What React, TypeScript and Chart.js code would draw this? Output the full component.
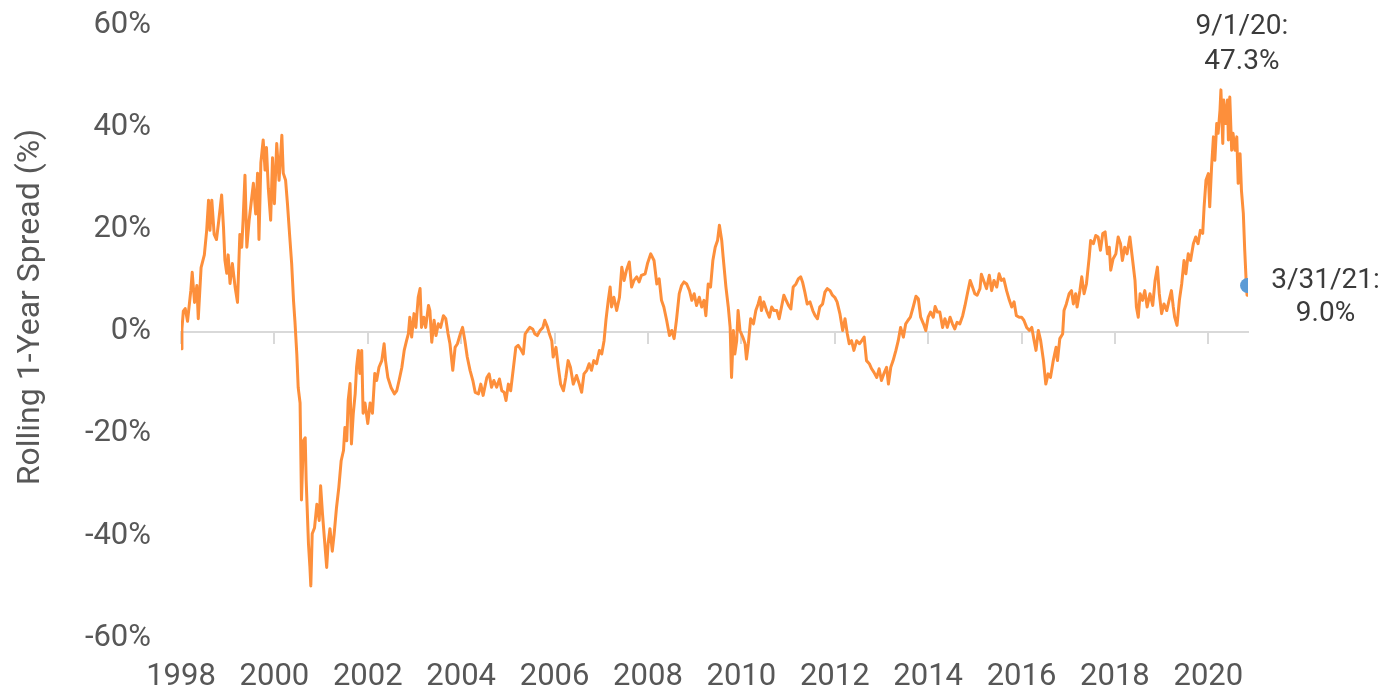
import { useEffect, useRef } from "react"
import { Chart, registerables } from "chart.js"
import type { Plugin } from "chart.js"

Chart.register(...registerables)

// rolling 1-year spread (x = decimal year on the axis)
const years = [
  1998.0, 1998.02, 1998.05, 1998.09, 1998.14, 1998.21, 1998.24, 1998.29, 1998.34, 1998.37,
  1998.43, 1998.5, 1998.55, 1998.59, 1998.62, 1998.66, 1998.71, 1998.76, 1998.81, 1998.87,
  1998.91, 1998.94, 1998.98, 1999.01, 1999.05, 1999.1, 1999.16, 1999.21, 1999.26, 1999.3,
  1999.33, 1999.37, 1999.41, 1999.46, 1999.5, 1999.55, 1999.6, 1999.64, 1999.67, 1999.71,
  1999.76, 1999.8, 1999.83, 1999.87, 1999.92, 1999.96, 2000.0, 2000.05, 2000.1, 2000.16,
  2000.19, 2000.24, 2000.28, 2000.33, 2000.37, 2000.41, 2000.44, 2000.48, 2000.51, 2000.55,
  2000.58, 2000.62, 2000.66, 2000.68, 2000.73, 2000.76, 2000.78, 2000.81, 2000.86, 2000.91,
  2000.96, 2000.99, 2001.03, 2001.07, 2001.12, 2001.15, 2001.19, 2001.24, 2001.28, 2001.33,
  2001.38, 2001.43, 2001.48, 2001.51, 2001.55, 2001.58, 2001.62, 2001.65, 2001.69, 2001.73,
  2001.76, 2001.8, 2001.83, 2001.87, 2001.9, 2001.94, 2002.0, 2002.05, 2002.1, 2002.15,
  2002.19, 2002.24, 2002.3, 2002.35, 2002.38, 2002.43, 2002.5, 2002.57, 2002.62, 2002.67,
  2002.73, 2002.78, 2002.83, 2002.87, 2002.9, 2002.94, 2002.99, 2003.03, 2003.08, 2003.12,
  2003.15, 2003.2, 2003.24, 2003.3, 2003.33, 2003.37, 2003.42, 2003.46, 2003.51, 2003.56,
  2003.62, 2003.67, 2003.72, 2003.76, 2003.82, 2003.87, 2003.92, 2003.98, 2004.03, 2004.08,
  2004.13, 2004.19, 2004.25, 2004.3, 2004.37, 2004.42, 2004.47, 2004.55, 2004.6, 2004.65,
  2004.7, 2004.76, 2004.82, 2004.87, 2004.92, 2004.96, 2005.01, 2005.06, 2005.12, 2005.17,
  2005.22, 2005.27, 2005.33, 2005.37, 2005.42, 2005.47, 2005.53, 2005.58, 2005.63, 2005.69,
  2005.75, 2005.79, 2005.85, 2005.89, 2005.94, 2005.97, 2006.03, 2006.08, 2006.13, 2006.19,
  2006.24, 2006.29, 2006.34, 2006.4, 2006.47, 2006.53, 2006.58, 2006.63, 2006.69, 2006.74,
  2006.79, 2006.84, 2006.9, 2006.96, 2007.01, 2007.06, 2007.1, 2007.15, 2007.19, 2007.22,
  2007.27, 2007.33, 2007.39, 2007.44, 2007.49, 2007.54, 2007.6, 2007.65, 2007.7, 2007.76,
  2007.81, 2007.86, 2007.94, 2007.99, 2008.06, 2008.13, 2008.19, 2008.24, 2008.29, 2008.34,
  2008.4, 2008.46, 2008.51, 2008.56, 2008.61, 2008.67, 2008.72, 2008.77, 2008.83, 2008.89,
  2008.94, 2008.99, 2009.04, 2009.1, 2009.15, 2009.2, 2009.24, 2009.29, 2009.34, 2009.39,
  2009.44, 2009.49, 2009.53, 2009.58, 2009.61, 2009.67, 2009.72, 2009.76, 2009.79, 2009.83,
  2009.86, 2009.9, 2009.93, 2009.97, 2010.03, 2010.08, 2010.11, 2010.15, 2010.2, 2010.26,
  2010.31, 2010.36, 2010.4, 2010.43, 2010.48, 2010.54, 2010.6, 2010.65, 2010.7, 2010.76,
  2010.81, 2010.86, 2010.91, 2010.96, 2011.01, 2011.06, 2011.11, 2011.17, 2011.22, 2011.27,
  2011.31, 2011.36, 2011.41, 2011.47, 2011.53, 2011.58, 2011.63, 2011.68, 2011.74, 2011.79,
  2011.84, 2011.9, 2011.95, 2012.0, 2012.05, 2012.11, 2012.17, 2012.22, 2012.27, 2012.31,
  2012.36, 2012.41, 2012.47, 2012.53, 2012.58, 2012.63, 2012.68, 2012.74, 2012.79, 2012.84,
  2012.9, 2012.95, 2013.0, 2013.05, 2013.11, 2013.15, 2013.2, 2013.25, 2013.31, 2013.36,
  2013.41, 2013.47, 2013.52, 2013.57, 2013.62, 2013.68, 2013.74, 2013.79, 2013.84, 2013.9,
  2013.95, 2014.0, 2014.05, 2014.11, 2014.15, 2014.2, 2014.25, 2014.31, 2014.36, 2014.41,
  2014.47, 2014.52, 2014.57, 2014.62, 2014.68, 2014.74, 2014.79, 2014.84, 2014.9, 2014.95,
  2015.0, 2015.05, 2015.11, 2015.14, 2015.2, 2015.25, 2015.31, 2015.36, 2015.41, 2015.47,
  2015.52, 2015.57, 2015.62, 2015.68, 2015.74, 2015.79, 2015.84, 2015.89, 2015.95, 2016.0,
  2016.05, 2016.11, 2016.17, 2016.22, 2016.27, 2016.31, 2016.36, 2016.41, 2016.47, 2016.52,
  2016.57, 2016.62, 2016.68, 2016.74, 2016.77, 2016.82, 2016.88, 2016.91, 2016.96, 2017.02,
  2017.07, 2017.11, 2017.16, 2017.19, 2017.25, 2017.29, 2017.34, 2017.39, 2017.45, 2017.48,
  2017.54, 2017.59, 2017.64, 2017.69, 2017.74, 2017.79, 2017.84, 2017.88, 2017.91, 2017.96,
  2018.02, 2018.07, 2018.12, 2018.16, 2018.21, 2018.26, 2018.32, 2018.38, 2018.43, 2018.46,
  2018.5, 2018.54, 2018.59, 2018.64, 2018.69, 2018.75, 2018.81, 2018.86, 2018.91, 2018.95,
  2019.0, 2019.05, 2019.11, 2019.16, 2019.21, 2019.25, 2019.28, 2019.33, 2019.38, 2019.43,
  2019.48, 2019.52, 2019.57, 2019.62, 2019.68, 2019.73, 2019.78, 2019.83, 2019.88, 2019.91,
  2019.95, 2020.0, 2020.03, 2020.07, 2020.11, 2020.14, 2020.18, 2020.21, 2020.25, 2020.27,
  2020.31, 2020.33, 2020.37, 2020.41, 2020.43, 2020.46, 2020.5, 2020.53, 2020.57, 2020.61,
  2020.64, 2020.68, 2020.71, 2020.75, 2020.78, 2020.81, 2020.83, 2020.84,
]

const spread = [
  -3.4, 0.5, 4.0, 4.5, 2.0, 8.0, 11.6, 5.7, 9.0, 2.5,
  12.5, 15.0, 19.8, 25.7, 19.8, 25.7, 19.0, 18.0, 21.8, 26.7,
  20.4, 14.0, 11.4, 15.0, 9.4, 13.3, 8.6, 5.7, 19.0, 16.5,
  21.8, 30.6, 16.5, 21.8, 25.0, 29.0, 23.0, 31.0, 18.0, 33.0,
  37.5, 31.6, 36.0, 28.0, 21.8, 34.0, 25.0, 36.8, 29.6, 38.4,
  31.0, 29.6, 25.0, 18.4, 13.3, 6.0, 2.0, -4.4, -11.0, -14.0,
  -33.0, -21.4, -20.8, -29.0, -41.6, -46.0, -49.8, -39.6, -38.4, -33.8,
  -37.0, -30.2, -35.7, -40.4, -46.2, -41.6, -38.6, -43.0, -39.6, -34.5,
  -30.5, -25.3, -23.3, -18.8, -21.4, -13.5, -10.2, -22.0, -16.0, -12.2,
  -7.0, -3.7, -8.2, -3.7, -16.0, -14.0, -18.0, -14.0, -16.0, -8.2,
  -9.6, -7.0, -5.7, -2.4, -5.7, -9.0, -11.0, -12.2, -11.6, -9.6,
  -7.0, -3.7, -1.8, -0.4, 2.8, -1.1, 3.5, 0.8, 6.7, 8.4,
  0.8, 2.8, 0.8, 5.1, 4.1, -2.1, 2.2, -0.8, 1.5, 0.8,
  3.1, 2.5, -0.5, -2.4, -7.6, -3.1, -2.4, -0.5, 0.8, -1.8,
  -5.0, -7.6, -9.6, -11.9, -12.2, -10.3, -12.5, -9.0, -8.3, -10.9,
  -9.6, -10.9, -9.3, -11.6, -11.9, -13.5, -10.3, -11.6, -7.0, -3.1,
  -2.7, -3.4, -4.4, -0.5, 0.2, 0.8, 0.5, -0.5, -0.8, 0.2,
  0.8, 2.2, 0.8, -0.5, -1.8, -5.0, -3.1, -7.0, -10.3, -11.6,
  -9.0, -5.7, -7.0, -10.3, -8.6, -10.3, -11.9, -8.3, -7.6, -6.3,
  -7.6, -5.7, -6.3, -3.7, -4.4, -1.8, 2.2, 6.1, 8.7, 4.8,
  6.7, 4.1, 6.7, 12.6, 10.0, 12.0, 13.6, 8.7, 10.0, 10.7,
  9.7, 11.0, 11.3, 13.3, 15.2, 13.9, 9.3, 10.3, 6.1, 4.8,
  2.2, -0.8, 0.2, -1.4, 2.2, 7.4, 9.0, 9.7, 9.3, 8.0,
  6.1, 7.4, 5.1, 6.7, 4.8, 6.1, 3.1, 9.3, 8.7, 13.9,
  16.5, 17.8, 20.8, 17.8, 14.6, 8.7, 4.8, 0.8, -9.0, 0.2,
  -4.4, -1.8, 4.1, 0.2, -1.1, -2.4, -5.4, -2.4, 2.5, 1.5,
  4.1, 5.4, 6.7, 4.1, 5.8, 4.1, 2.8, 4.8, 4.1, 4.1,
  2.5, 4.8, 7.1, 6.1, 5.1, 4.4, 8.7, 9.3, 10.3, 10.7,
  9.7, 7.7, 5.4, 5.8, 4.1, 3.1, 2.5, 4.8, 5.4, 7.7,
  8.4, 8.0, 7.1, 6.7, 5.8, 3.5, 0.2, 2.5, -0.5, -2.4,
  -1.8, -3.7, -1.8, -2.4, -1.8, -1.1, -5.7, -6.3, -7.3, -8.0,
  -9.0, -7.3, -9.6, -8.3, -7.0, -10.3, -7.0, -5.7, -3.7, -1.8,
  0.8, -1.1, 1.5, 2.2, 2.8, 4.8, 6.9, 6.4, 2.8, 1.5,
  0.2, 2.8, 3.8, 2.8, 4.9, 3.8, 3.8, 0.8, 2.5, 0.8,
  2.8, 1.5, 0.5, 1.8, 1.5, 3.1, 5.1, 7.4, 10.0, 8.7,
  7.4, 7.1, 8.4, 11.2, 9.7, 8.4, 11.0, 8.0, 10.0, 8.7,
  11.3, 10.0, 10.3, 8.0, 6.1, 4.8, 5.8, 3.1, 2.8, 2.8,
  2.2, 0.8, 0.2, 0.8, -1.8, -3.7, 0.2, -1.8, -5.7, -10.3,
  -8.3, -9.0, -5.7, -3.1, -5.7, -1.4, -0.5, 4.1, 5.4, 7.4,
  8.0, 5.4, 7.4, 4.8, 8.0, 10.7, 7.4, 9.3, 14.6, 17.8,
  17.2, 18.8, 18.5, 15.9, 19.2, 19.5, 15.2, 16.5, 12.0, 14.2,
  15.2, 18.5, 17.2, 13.9, 16.5, 15.2, 18.5, 13.9, 10.0, 4.8,
  2.8, 7.4, 6.1, 8.0, 4.8, 7.4, 5.1, 10.0, 12.6, 7.4,
  3.5, 5.4, 4.1, 6.1, 8.0, 4.8, 2.8, 1.2, 6.1, 9.3,
  13.9, 11.3, 15.2, 13.9, 17.2, 18.5, 17.2, 19.8, 19.2, 24.4,
  29.6, 30.9, 24.4, 32.2, 38.1, 33.5, 40.7, 38.8, 43.3, 47.3,
  36.8, 45.3, 40.7, 45.3, 37.5, 45.9, 35.5, 38.8, 35.5, 38.1,
  29.0, 34.8, 27.6, 23.1, 15.9, 10.0, 7.1, 9.0,
]

const yTicks = [-60, -40, -20, 0, 20, 40, 60]
const xTickStep = 2
const yTitle = "Rolling 1-Year Spread (%)"
const peakLabel = ["9/1/20:", "47.3%"]
const endLabel = ["3/31/21:", "9.0%"]

const lineColor = "#fd8f3b"
const dotColor = "#5b9bd6"
const axisText = "#575757"
const noteText = "#3b3b3b"
const zeroColor = "#d9d9d9"

const labelsPlugin: Plugin<"line"> = {
  id: "spreadLabels",
  afterDatasetsDraw(chart) {
    const { ctx, scales } = chart
    const xs = scales.x
    const ys = scales.y
    const n = Math.min(years.length, spread.length)
    let peak = 0
    for (let i = 1; i < n; i++) if (spread[i] > spread[peak]) peak = i

    ctx.save()
    ctx.textAlign = "center"
    ctx.textBaseline = "middle"
    ctx.fillStyle = noteText
    ctx.font = "28px Roboto"

    const px = xs.getPixelForValue(years[peak])
    const py = ys.getPixelForValue(spread[peak])
    ctx.fillText(peakLabel[0], px + 21, py - 63)
    ctx.fillText(peakLabel[1], px + 21, py - 28)

    const ex = xs.getPixelForValue(years[n - 1])
    const ey = ys.getPixelForValue(spread[n - 1])
    ctx.fillText(endLabel[0], ex + 78, ey - 5)
    ctx.fillText(endLabel[1], ex + 78, ey + 28)

    // axis title sits a little above the plot centre in the original
    ctx.fillStyle = axisText
    ctx.font = "32px Roboto"
    ctx.translate(31, 307)
    ctx.rotate(-Math.PI / 2)
    ctx.fillText(yTitle, 0, 0)
    ctx.restore()
  },
}

export default function App() {
  const chartRef = useRef<HTMLCanvasElement>(null)
  const chartInstance = useRef<Chart | null>(null)

  useEffect(() => {
    if (!chartRef.current) return
    const ctx = chartRef.current.getContext("2d")
    if (!ctx) return

    const n = Math.min(years.length, spread.length)
    const points = years.slice(0, n).map((x, i) => ({ x, y: spread[i] }))
    const last = points[n - 1]
    const xMin = years[0]
    const xMax = 2020.85

    chartInstance.current = new Chart(ctx, {
      type: "line",
      data: {
        datasets: [
          {
            data: [last],
            showLine: false,
            pointRadius: 7.5,
            pointBackgroundColor: dotColor,
            pointBorderWidth: 0,
            order: 0,
          },
          {
            data: points,
            borderColor: lineColor,
            borderWidth: 3,
            borderJoinStyle: "round",
            pointRadius: 0,
            tension: 0,
            order: 1,
          },
        ],
      },
      options: {
        responsive: true,
        maintainAspectRatio: false,
        animation: false,
        layout: { padding: { left: 0, right: 143, top: 25, bottom: 0 } },
        plugins: {
          legend: { display: false },
          tooltip: { enabled: false },
        },
        scales: {
          x: {
            type: "linear",
            position: "bottom",
            min: xMin,
            max: xMax,
            grid: { display: false, drawTicks: false },
            border: { display: false },
            ticks: {
              stepSize: xTickStep,
              includeBounds: false,
              autoSkip: false,
              maxRotation: 0,
              padding: 21,
              color: axisText,
              font: { family: "Roboto", size: 31 },
              callback: (v) => String(v),
            },
            afterFit: (s) => {
              s.height = 54
            },
          },
          zero: {
            type: "linear",
            axis: "x",
            position: { y: 0 },
            min: xMin,
            max: xMax,
            grid: {
              drawOnChartArea: false,
              drawTicks: true,
              tickLength: 11,
              color: zeroColor,
              lineWidth: 2,
            },
            border: { display: true, color: zeroColor, width: 2 },
            ticks: { display: false, stepSize: xTickStep, includeBounds: false },
            afterFit: (s) => {
              s.height = 0
            },
          },
          y: {
            type: "linear",
            min: yTicks[0],
            max: yTicks[yTicks.length - 1],
            // hidden tick marks give the label gap without adding top padding
            grid: { display: false, drawTicks: true, tickLength: 30 },
            border: { display: false },
            ticks: {
              stepSize: yTicks[1] - yTicks[0],
              padding: 0,
              color: axisText,
              font: { family: "Roboto", size: 31 },
              callback: (v) => `${v}%`,
            },
            afterFit: (s) => {
              s.width = 181
            },
          },
        },
      },
      plugins: [labelsPlugin],
    })

    return () => {
      chartInstance.current?.destroy()
    }
  }, [])

  return (
    <div style={{ position: "absolute", left: 0, top: 0, width: 1391, height: 692, background: "#fff" }}>
      <canvas ref={chartRef} />
    </div>
  )
}
